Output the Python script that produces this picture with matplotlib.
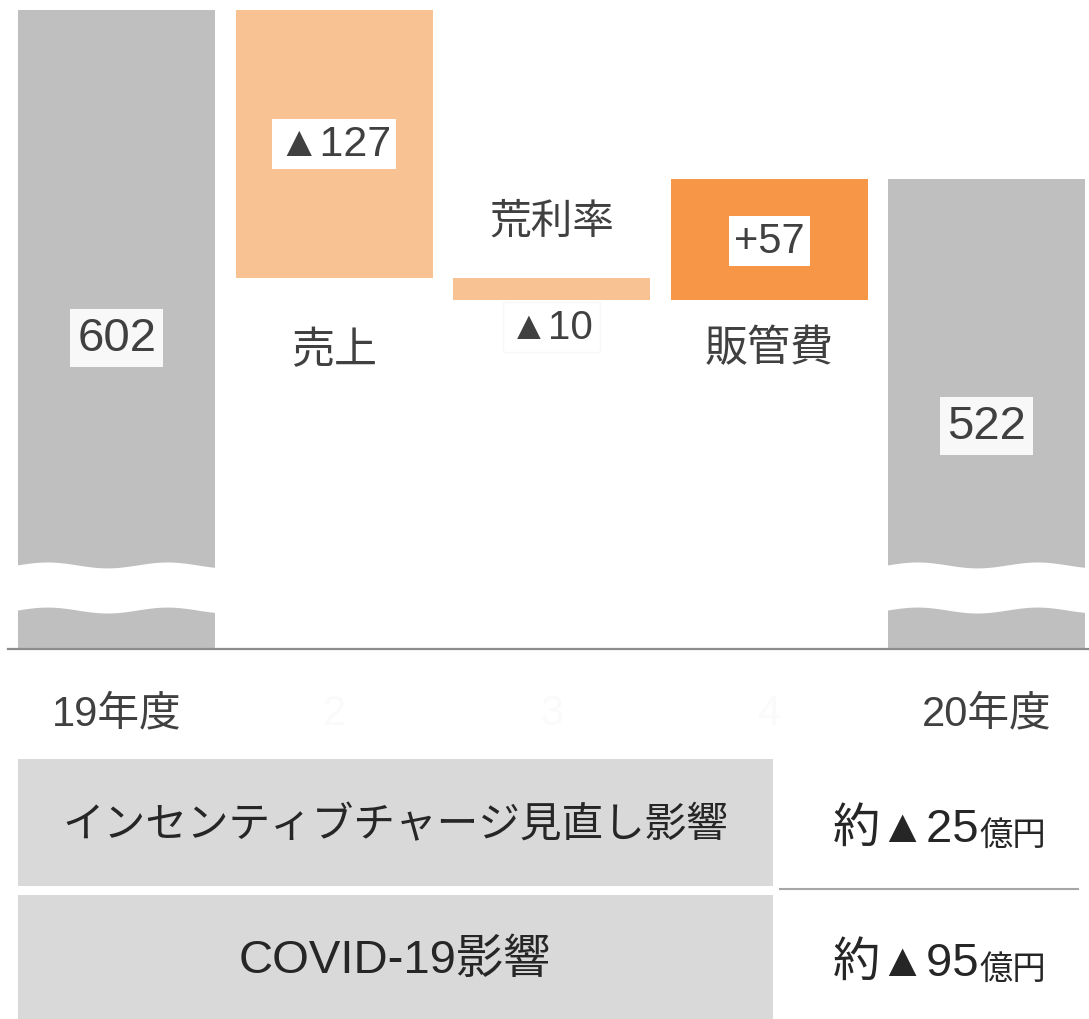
import numpy as np
import matplotlib
matplotlib.use("Agg")
import matplotlib.pyplot as plt
from matplotlib.patches import Rectangle

plt.rcParams['font.family'] = ['Liberation Sans', 'Noto Sans CJK JP', 'DejaVu Sans']

# waterfall data (億円)
categories = ["19年度", "2", "3", "4", "20年度"]
start_value = 602
changes = [-127, -10, 57]
end_value = 522
change_names = ["売上", "荒利率", "販管費"]
change_labels = ["▲127", "▲10", "+57"]

table_labels = ["インセンティブチャージ見直し影響", "COVID-19影響"]
table_values = ["▲25", "▲95"]

GRAY = "#bfbfbf"
LIGHT_OR = "#f9c293"
ORANGE = "#f79646"
TXT = "#404040"

W, H = 1089, 1020
fig = plt.figure(figsize=(W / 100, H / 100), dpi=100)

# ---- waterfall chart ----
ax = fig.add_axes([8 / W, 1 - 650 / H, 1 - 8 / W, 650 / H])
ybase = 300
ax.set_ylim(ybase, 607)
ax.set_xlim(-0.5, 4.47)
bw = 0.906

# bottoms / tops for floating bars
level = start_value
bottoms, heights = [], []
for c in changes:
    new = level + c
    bottoms.append(min(level, new))
    heights.append(abs(c))
    level = new

ax.bar(0, start_value - ybase, bottom=ybase, width=bw, color=GRAY, zorder=2)
ax.bar(4, end_value - ybase, bottom=ybase, width=bw, color=GRAY, zorder=2)
ax.bar([1, 2, 3], heights, bottom=bottoms, width=bw,
       color=[LIGHT_OR, LIGHT_OR, ORANGE], zorder=2)

# wavy break on the gray bars
for i in [0, 4]:
    xs = np.linspace(i - bw / 2 - 0.02, i + bw / 2 + 0.02, 200)
    off = (xs - (i - bw / 2)) * 217.5
    wave = 1.4 * np.cos(2 * np.pi * (off - 29) / 120)
    ax.fill_between(xs, 318.4 + wave, 339.7 + wave, color="white",
                    zorder=3, linewidth=0)

big = 34
ax.text(0, 446.8, str(start_value), ha="center", va="center", fontsize=big,
        color=TXT, zorder=4,
        bbox=dict(boxstyle="square,pad=0.15", fc="#f8f8f8", ec="none"))
ax.text(4, 405.3, str(end_value), ha="center", va="center", fontsize=big,
        color=TXT, zorder=4,
        bbox=dict(boxstyle="square,pad=0.15", fc="#f8f8f8", ec="none"))

ax.text(1, 538.4, change_labels[0], ha="center", va="center", fontsize=31,
        color=TXT, zorder=4,
        bbox=dict(boxstyle="square,pad=0.12", fc="white", ec="none"))
ax.text(1, 440.6, change_names[0], ha="center", va="center", fontsize=31,
        color=TXT, zorder=4)
ax.text(2, 502.1, change_names[1], ha="center", va="center", fontsize=30,
        color=TXT, zorder=4)
ax.text(2, 452.0, change_labels[1], ha="center", va="center", fontsize=29,
        color=TXT, zorder=4,
        bbox=dict(boxstyle="square,pad=0.15", fc="white", ec="#f7f7f7"))
ax.text(3, 492.6, change_labels[2], ha="center", va="center", fontsize=30,
        color=TXT, zorder=4,
        bbox=dict(boxstyle="square,pad=0.12", fc="white", ec="none"))
ax.text(3, 441.6, change_names[2], ha="center", va="center", fontsize=31,
        color=TXT, zorder=4)

ax.set_xticks(range(5))
ax.set_xticklabels(categories, fontsize=30)
for k, lab in enumerate(ax.get_xticklabels()):
    lab.set_color(TXT if k in (0, 4) else "#fafafa")
ax.tick_params(axis="x", length=0, pad=32)
ax.set_yticks([])
for s in ["top", "left", "right"]:
    ax.spines[s].set_visible(False)
ax.spines["bottom"].set_color("#8c8c8c")
ax.spines["bottom"].set_linewidth(1.6)
ax.spines["bottom"].set_zorder(5)

# ---- bottom table ----
tx = fig.add_axes([0, 0, 1, 1])
tx.set_xlim(0, W)
tx.set_ylim(H, 0)
tx.axis("off")
rows = [(760, 887), (896, 1020)]
for k, ((y0, y1), lab, val) in enumerate(zip(rows, table_labels, table_values)):
    tx.add_patch(Rectangle((18, y0), 755, y1 - y0, fc="#d9d9d9", ec="none"))
    yc = (y0 + y1) / 2 + 3
    tx.text(395, yc, lab, ha="center", va="center",
            fontsize=30 if k == 0 else 34, color="#262626")
    t1 = tx.text(833, yc + 15, "約" + val, ha="left", va="baseline",
                 fontsize=34, color="#262626")
    tx.annotate("億円", xy=(1, 0), xycoords=t1, ha="left", va="bottom",
                fontsize=24, color="#262626")
tx.plot([780, 1078], [890, 890], color="#a6a6a6", lw=1.5)

fig.savefig("out.png", dpi=100)
